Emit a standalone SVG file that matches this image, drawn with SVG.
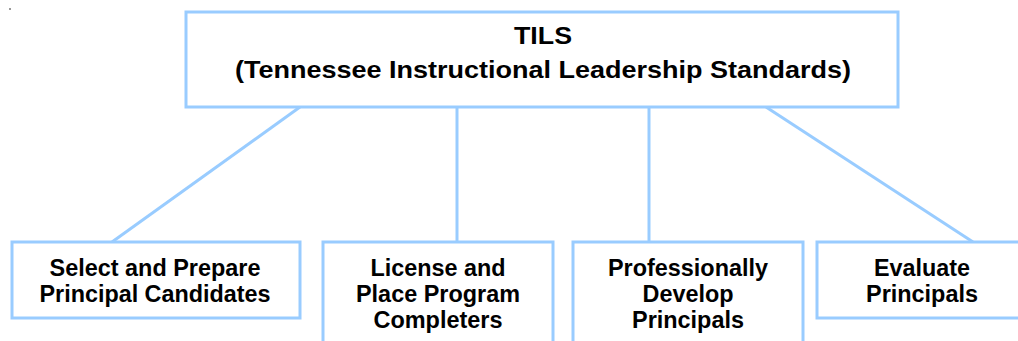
<svg xmlns="http://www.w3.org/2000/svg" width="1018" height="341" viewBox="0 0 1018 341">
<style>
.box{fill:#fff;stroke:#99CCFF;stroke-width:3}
.ln{stroke:#99CCFF;stroke-width:3;fill:none}
.t{font-family:"Liberation Sans",Arial,sans-serif;font-weight:bold;fill:#000;text-anchor:middle}
.top{font-size:24.5px}
.sub{font-size:23px}
</style>
<rect x="9" y="8" width="2" height="2" fill="#999"/>
<g id="connectors">
<line class="ln" x1="300" y1="107" x2="112" y2="242"/>
<line class="ln" x1="457" y1="107" x2="457" y2="242"/>
<line class="ln" x1="649" y1="107" x2="649" y2="242"/>
<line class="ln" x1="766" y1="107" x2="973" y2="242"/>
</g>
<g id="tils">
<rect class="box" x="186" y="12" width="712" height="95"/>
<text class="t top" x="543" y="44" textLength="58" lengthAdjust="spacingAndGlyphs">TILS</text>
<text class="t top" x="543" y="78" textLength="616" lengthAdjust="spacingAndGlyphs">(Tennessee Instructional Leadership Standards)</text>
</g>
<g id="select">
<rect class="box" x="12" y="242" width="288" height="76"/>
<text class="t sub" x="155" y="276" textLength="211" lengthAdjust="spacingAndGlyphs">Select and Prepare</text>
<text class="t sub" x="155" y="302" textLength="231" lengthAdjust="spacingAndGlyphs">Principal Candidates</text>
</g>
<g id="license">
<rect class="box" x="323" y="242" width="230" height="110"/>
<text class="t sub" x="438" y="276" textLength="135" lengthAdjust="spacingAndGlyphs">License and</text>
<text class="t sub" x="438" y="302" textLength="164" lengthAdjust="spacingAndGlyphs">Place Program</text>
<text class="t sub" x="438" y="328" textLength="129" lengthAdjust="spacingAndGlyphs">Completers</text>
</g>
<g id="develop">
<rect class="box" x="573" y="242" width="230" height="110"/>
<text class="t sub" x="688" y="276" textLength="160" lengthAdjust="spacingAndGlyphs">Professionally</text>
<text class="t sub" x="688" y="302" textLength="91" lengthAdjust="spacingAndGlyphs">Develop</text>
<text class="t sub" x="688" y="328" textLength="112" lengthAdjust="spacingAndGlyphs">Principals</text>
</g>
<g id="evaluate">
<rect class="box" x="817" y="242" width="210" height="76"/>
<text class="t sub" x="922" y="276" textLength="96" lengthAdjust="spacingAndGlyphs">Evaluate</text>
<text class="t sub" x="922" y="302" textLength="112" lengthAdjust="spacingAndGlyphs">Principals</text>
</g>
</svg>
